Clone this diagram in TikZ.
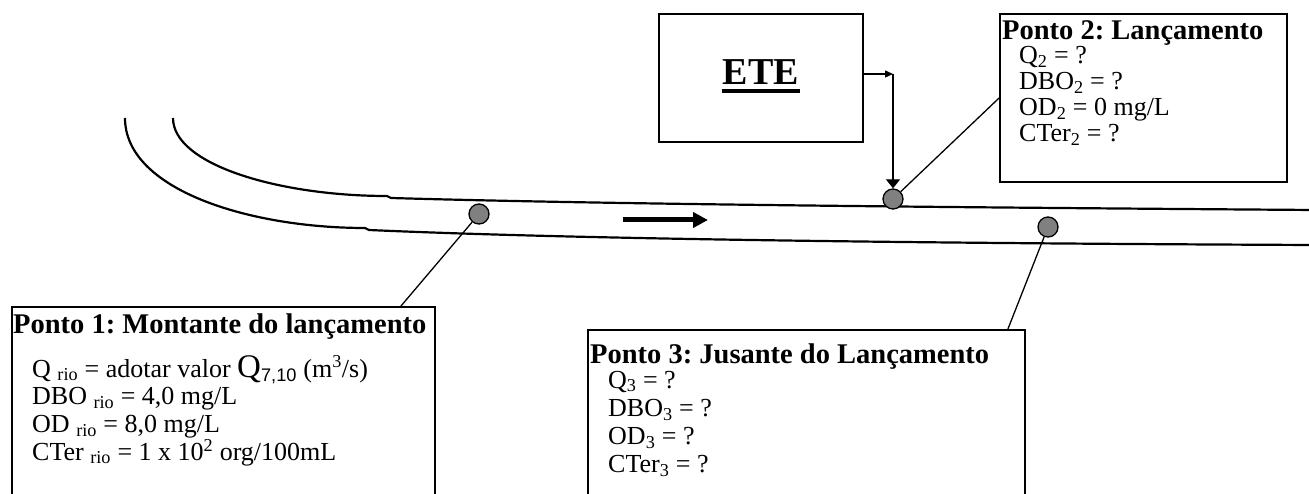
\documentclass[tikz,border=0pt]{standalone}
\usepackage{fontspec}
\setmainfont{Liberation Serif}
\setsansfont{Liberation Sans}
\usetikzlibrary{positioning, calc, arrows.meta}
\tikzset{caixa/.style={draw, line width=1.8pt, inner sep=0pt},
    ponto/.style={circle, draw=black, fill=gray, line width=1.3pt, minimum size=20pt, inner sep=0pt},
    liga/.style={line width=1.3pt},
    margem/.style={line width=2.2pt},
    titulo/.style={anchor=base west, inner sep=0pt, font=\fontsize{28.5}{32}\selectfont\bfseries},
    linha/.style={anchor=base west, inner sep=0pt, font=\fontsize{26}{30}\selectfont}}
\newcommand{\rio}{\textsubscript{rio}}
\newcommand{\qsete}{{\fontsize{33}{33}\selectfont Q}\textsubscript{\sffamily 7,10}}
\frenchspacing

\begin{document}
\begin{tikzpicture}[x=1pt, y=-1pt]
                 \useasboundingbox (0,0) rectangle (1309,494);
                 \clip (0,0) rectangle (1309,494);

                 \draw[margem](173,118) .. controls (173,165) and (280,196) .. (387,196) -- (391,198) .. controls (600,204) and (900,207) .. (1315,210);
                 \draw[margem](125,118) .. controls (125,190) and (250,228) .. (365,228) -- (369,230) .. controls (550,238) and (850,243) .. (1315,245);

                 \coordinate (fluxoA) at (623,220);
                 \coordinate (fluxoB) at (708,220);
                 \draw[line width=5pt, -{Triangle[length=15pt, width=15pt]}](fluxoA)--(fluxoB);

                 \node[caixa, minimum width=204pt, minimum height=128pt](ete) at (761,78) {};
                 \node[inner sep=0pt, anchor=base, font=\fontsize{38}{40}\selectfont\bfseries](etetxt) at (761,85) {ETE};
                 \draw[line width=3.5pt]($(etetxt.base west)+(-1,6)$)--($(etetxt.base east)+(1,6)$);

                 \node[ponto](c1) at (479,214) {};
                 \node[ponto](c2) at (893,199) {};
                 \node[ponto](c3) at (1048,227) {};

                 \coordinate (canto) at ($(c2 |- ete.east)+(0,-4)$);
                 \draw[liga, -{Triangle[length=8pt, width=7pt]}]($(ete.east)+(0,-4)$)--(canto);
                 \draw[liga, -{Triangle[length=9pt, width=14pt]}](canto)--(c2.north);

                 \node[caixa, minimum width=423pt, minimum height=203pt](caixa1) at (223.5,408.5) {};
                 \node[caixa, minimum width=287pt, minimum height=168pt](caixa2) at (1143.5,98) {};
                 \node[caixa, minimum width=437pt, minimum height=180pt](caixa3) at (806.5,420) {};

                 \draw[liga](c1)--($(caixa1.north east)+(-35,0)$);
                 \draw[liga](c2)--(caixa2.west);
                 \draw[liga](c3)--($(caixa3.north east)+(-18,0)$);

                 \node[titulo](titulo1) at (13,334) {Ponto 1: Montante do lançamento};
                 \foreach \txt [count=\i from 0] in {{Q \rio{} = adotar valor \qsete{} (m\textsuperscript{3}/s)}, {DBO \rio{} = 4,0 mg/L}, {OD \rio{} = 8,0 mg/L}, {CTer \rio{} = 1 x 10\textsuperscript{2} org/100mL}}
                     \node[linha](p1l\i) at (32,{377+27.7*\i}) {\txt};

                 \node[titulo](titulo2) at (1002,40) {Ponto 2: Lançamento};
                 \foreach \txt [count=\i from 0] in {{Q\textsubscript{2} = ?}, {DBO\textsubscript{2} = ?}, {OD\textsubscript{2} = 0 mg/L}, {CTer\textsubscript{2} = ?}}
                     \node[linha](p2l\i) at (1019,{64+26*\i}) {\txt};

                 \node[titulo](titulo3) at (590,363) {Ponto 3: Jusante do Lançamento};
                 \foreach \txt [count=\i from 0] in {{Q\textsubscript{3} = ?}, {DBO\textsubscript{3} = ?}, {OD\textsubscript{3} = ?}, {CTer\textsubscript{3} = ?}}
                     \node[linha](p3l\i) at (608,{388+28.3*\i}) {\txt};
             \end{tikzpicture}
\end{document}
